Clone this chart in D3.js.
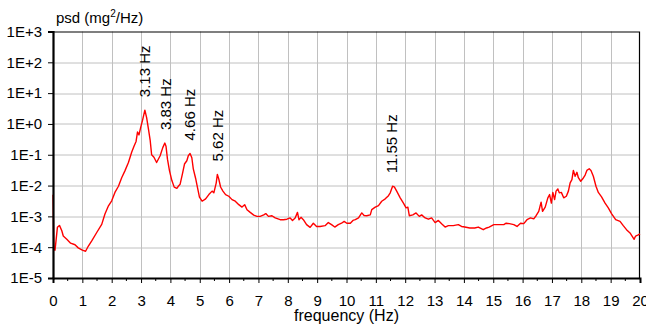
<!DOCTYPE html>
<html>
<head>
<meta charset="utf-8">
<script src="https://cdn.jsdelivr.net/npm/d3@7"></script>
<style>
    body { margin: 0; background: #fff; }
    text { font-family: "Liberation Sans", Arial, sans-serif; fill: #000; }
    .grid line { stroke: #c0c0c0; stroke-width: 1; }
</style>
</head>
<body>
<div id="chart"></div>
<script>
// frequency (Hz) / psd (mg^2/Hz)
var freqs = [
    0, 0.03, 0.07, 0.15, 0.22, 0.30, 0.35, 0.47, 0.60, 0.75, 0.86, 1.00, 1.11, 1.20, 1.32, 1.49,
    1.66, 1.77, 1.89, 2.00, 2.11, 2.23, 2.34, 2.45, 2.57, 2.68, 2.76, 2.83, 2.88, 2.93, 2.99, 3.05,
    3.13, 3.19, 3.25, 3.31, 3.36, 3.44, 3.53, 3.65, 3.74, 3.81, 3.85, 3.90, 3.97, 4.05, 4.13, 4.22,
    4.27, 4.33, 4.41, 4.48, 4.56, 4.61, 4.67, 4.73, 4.78, 4.86, 4.92, 4.99, 5.08, 5.20, 5.31, 5.42,
    5.48, 5.56, 5.60, 5.65, 5.71, 5.79, 5.88, 5.99, 6.10, 6.21, 6.33, 6.44, 6.53, 6.61, 6.72, 6.84,
    6.95, 7.06, 7.18, 7.25, 7.34, 7.46, 7.57, 7.74, 7.85, 7.97, 8.08, 8.16, 8.25, 8.33, 8.38, 8.45,
    8.53, 8.64, 8.76, 8.87, 8.98, 9.10, 9.27, 9.38, 9.49, 9.60, 9.72, 9.83, 9.92, 10.01, 10.13, 10.22,
    10.30, 10.41, 10.52, 10.60, 10.69, 10.81, 10.86, 10.98, 11.09, 11.20, 11.32, 11.43, 11.49, 11.57, 11.63, 11.71,
    11.83, 11.94, 12.03, 12.09, 12.14, 12.26, 12.37, 12.48, 12.56, 12.68, 12.79, 12.90, 13.02, 13.13, 13.24, 13.36,
    13.47, 13.64, 13.81, 13.92, 14.03, 14.20, 14.37, 14.49, 14.66, 14.77, 14.86, 15.02, 15.19, 15.36, 15.44, 15.55,
    15.70, 15.81, 15.93, 16.04, 16.15, 16.27, 16.38, 16.46, 16.55, 16.63, 16.68, 16.77, 16.86, 16.92, 16.98, 17.03,
    17.09, 17.14, 17.20, 17.25, 17.32, 17.40, 17.49, 17.56, 17.62, 17.68, 17.73, 17.79, 17.85, 17.90, 17.98, 18.05,
    18.13, 18.19, 18.27, 18.33, 18.41, 18.50, 18.58, 18.69, 18.81, 18.92, 19.03, 19.17, 19.32, 19.43, 19.54, 19.66,
    19.80, 19.85, 19.94, 20.00
];
var psd = [
    5e-3, 8e-5, 8e-5, 4.4e-4, 5.1e-4, 3.4e-4, 2.3e-4, 1.8e-4, 1.35e-4, 1.2e-4, 9.5e-5, 8e-5, 7.4e-5, 1.07e-4, 1.6e-4, 3e-4,
    5.5e-4, 1.2e-3, 2.2e-3, 3.2e-3, 6e-3, 9.5e-3, 1.8e-2, 3e-2, 5.6e-2, 0.12, 0.19, 0.27, 0.55, 0.44, 0.79, 1.3,
    2.8, 1.6, 0.7, 0.3, 0.1, 0.083, 0.056, 0.093, 0.17, 0.24, 0.19, 0.072, 0.03, 0.0145, 0.0089, 0.0081,
    0.0095, 0.011, 0.024, 0.05, 0.064, 0.093, 0.11, 0.08, 0.035, 0.017, 0.0089, 0.0042, 0.0031, 0.0037, 0.0051, 0.0066,
    0.0058, 0.012, 0.023, 0.016, 0.009, 0.0066, 0.0051, 0.0045, 0.0035, 0.0031, 0.0024, 0.002, 0.0024, 0.00165, 0.00135, 0.0011,
    0.001, 0.001, 0.00112, 0.00123, 0.001, 0.00105, 0.00089, 0.00078, 0.00078, 0.00081, 0.00089, 0.00074, 0.00089, 0.00135, 0.00078, 0.00093,
    0.00078, 0.00054, 0.00044, 0.0006, 0.00047, 0.00047, 0.0005, 0.00063, 0.00054, 0.00045, 0.00054, 0.0006, 0.00069, 0.0006, 0.0006, 0.00074,
    0.00078, 0.00089, 0.0013, 0.00107, 0.00105, 0.00112, 0.00166, 0.002, 0.00224, 0.0031, 0.0037, 0.0047, 0.0058, 0.0095, 0.0091, 0.0066,
    0.004, 0.0027, 0.0019, 0.002, 0.00105, 0.00112, 0.00129, 0.001, 0.00112, 0.00089, 0.00081, 0.00089, 0.00063, 0.00074, 0.00058, 0.00045,
    0.0005, 0.0005, 0.00054, 0.00047, 0.00045, 0.00042, 0.00042, 0.00045, 0.00037, 0.00042, 0.00045, 0.00054, 0.00054, 0.00054, 0.0006, 0.00058,
    0.00054, 0.00047, 0.0006, 0.00058, 0.00078, 0.00089, 0.00083, 0.00105, 0.00145, 0.0029, 0.00145, 0.002, 0.004, 0.0051, 0.0027, 0.006,
    0.0035, 0.0066, 0.0078, 0.0058, 0.006, 0.004, 0.0045, 0.0066, 0.0123, 0.0155, 0.031, 0.02, 0.027, 0.018, 0.0138, 0.0166,
    0.022, 0.031, 0.035, 0.031, 0.02, 0.0095, 0.006, 0.0043, 0.0027, 0.0019, 0.00123, 0.00078, 0.00069, 0.0005, 0.00037, 0.00029,
    0.00018, 0.00023, 0.00025, 0.00027
];

// marked peaks
var peakFreqs = [3.13, 3.83, 4.66, 5.62, 11.55];
var peakPsd = [2.8, 0.24, 0.11, 0.023, 0.0095];
var peakLabels = ["3.13 Hz", "3.83 Hz", "4.66 Hz", "5.62 Hz", "11.55 Hz"];

// axis ticks
var xTicks = d3.range(0, 21);
var yTicks = [1e3, 1e2, 1e1, 1e0, 1e-1, 1e-2, 1e-3, 1e-4, 1e-5];
var yTickLabels = ["1E+3", "1E+2", "1E+1", "1E+0", "1E-1", "1E-2", "1E-3", "1E-4", "1E-5"];

var W = 646, H = 325;
var margin = {top: 31.5, right: 6, bottom: 47, left: 53};
var width = W - margin.left - margin.right,
    height = H - margin.top - margin.bottom;

var svg = d3.select("#chart").append("svg")
    .attr("width", W)
    .attr("height", H);

var chart = svg.append("g")
    .attr("transform", "translate(" + margin.left + "," + margin.top + ")");

var x = d3.scaleLinear().domain([0, 20]).range([0, width]);
var y = d3.scaleLog().domain([1e-5, 1e3]).range([height, 0]);

// grid
var grid = chart.append("g").attr("class", "grid");
grid.selectAll(".vg")
    .data(xTicks.slice(1, -1))
    .enter().append("line")
    .attr("x1", function (d) { return Math.round(x(d)) + 0.5; })
    .attr("x2", function (d) { return Math.round(x(d)) + 0.5; })
    .attr("y1", 0)
    .attr("y2", height);
grid.selectAll(".hg")
    .data(yTicks.slice(1, -1))
    .enter().append("line")
    .attr("x1", 0)
    .attr("x2", width)
    .attr("y1", function (d) { return Math.round(y(d)) + 0.5; })
    .attr("y2", function (d) { return Math.round(y(d)) + 0.5; });

// frame top / right
chart.append("path")
    .attr("d", "M0," + 0.5 + "H" + (width - 0.5) + "V" + height)
    .attr("fill", "none")
    .attr("stroke", "#000")
    .attr("stroke-width", 1.2);

// curve
var points = freqs.map(function (f, i) { return {f: f, p: psd[i]}; });
var line = d3.line()
    .curve(d3.curveLinear)
    .x(function (d) { return x(d.f); })
    .y(function (d) { return y(d.p); });

chart.append("path")
    .datum(points)
    .attr("d", line)
    .attr("fill", "none")
    .attr("stroke", "#ff0000")
    .attr("stroke-width", 1.4)
    .attr("stroke-linejoin", "round");

// x axis
var xAxis = chart.append("g")
    .attr("transform", "translate(0," + height + ")")
    .call(d3.axisBottom(x).tickValues(xTicks).tickSize(5).tickPadding(12).tickFormat(d3.format("d")));
xAxis.selectAll(".minor")
    .data(d3.range(0.5, 20, 1))
    .enter().append("line")
    .attr("x1", function (d) { return x(d); })
    .attr("x2", function (d) { return x(d); })
    .attr("y1", 0)
    .attr("y2", 3)
    .attr("stroke", "#000");

// y axis
var yAxis = chart.append("g")
    .call(d3.axisLeft(y).tickValues(yTicks).tickSize(5).tickPadding(6)
        .tickFormat(function (d, i) { return yTickLabels[i]; }));

chart.selectAll(".tick text")
    .style("font-family", "'Liberation Sans', Arial, sans-serif")
    .style("font-size", "15px")
    .attr("fill", "#000");
chart.selectAll(".domain, .tick line").attr("stroke", "#000");
xAxis.select(".domain").attr("stroke-width", 2);
yAxis.select(".domain").attr("stroke-width", 2.2);

// peak labels
chart.selectAll(".peak")
    .data(peakFreqs)
    .enter().append("text")
    .attr("class", "peak")
    .attr("transform", function (d, i) {
        return "translate(" + x(d) + "," + (y(peakPsd[i]) - 13) + ") rotate(-90)";
    })
    .attr("dy", "0.35em")
    .style("font-size", "15px")
    .text(function (d, i) { return peakLabels[i]; });

// axis titles
var yTitle = svg.append("text")
    .attr("x", 56)
    .attr("y", 23)
    .style("font-size", "15px");
yTitle.append("tspan").text("psd (mg");
yTitle.append("tspan").attr("dy", -6).style("font-size", "10px").text("2");
yTitle.append("tspan").attr("dy", 6).text("/Hz)");

svg.append("text")
    .attr("x", margin.left + width / 2)
    .attr("y", 321)
    .attr("text-anchor", "middle")
    .style("font-size", "16px")
    .text("frequency (Hz)");
</script>
</body>
</html>
